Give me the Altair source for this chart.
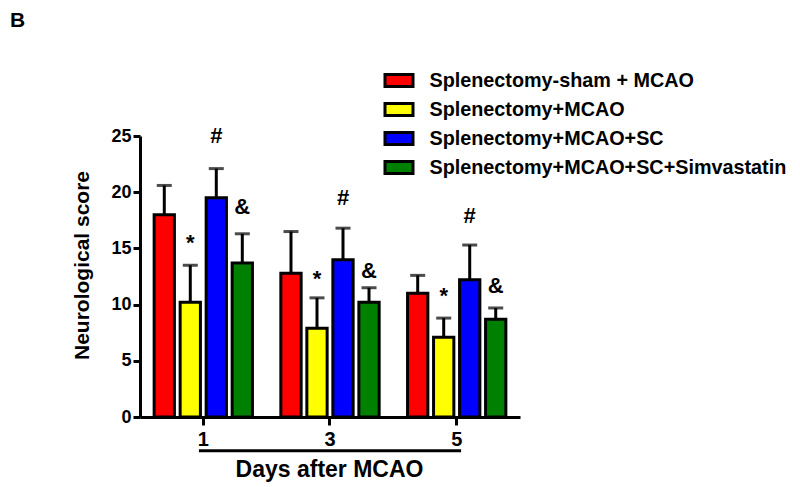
import altair as alt
import pandas as pd

# ---- data ----
days = ["1", "3", "5"]
groups = [
    "Splenectomy-sham + MCAO",
    "Splenectomy+MCAO",
    "Splenectomy+MCAO+SC",
    "Splenectomy+MCAO+SC+Simvastatin",
]
colors = ["#FF0000", "#FFFF00", "#0000FF", "#008000"]

mean_sham = [18.0, 12.8, 11.0]
mean_splen = [10.2, 7.9, 7.1]
mean_sc = [19.5, 14.0, 12.2]
mean_simva = [13.7, 10.2, 8.7]

sem_sham = [2.6, 3.7, 1.6]
sem_splen = [3.3, 2.7, 1.7]
sem_sc = [2.6, 2.8, 3.1]
sem_simva = [2.6, 1.3, 1.0]

# significance marks (group index 1,2,3) and their heights per day
sig_symbols = ["*", "#", "&"]
sig_y_splen = [14.9, 11.65, 10.1]
sig_y_sc = [24.4, 18.9, 17.3]
sig_y_simva = [18.1, 12.4, 11.0]

FONT = "Liberation Sans"

means = [mean_sham, mean_splen, mean_sc, mean_simva]
sems = [sem_sham, sem_splen, sem_sc, sem_simva]
rows = []
for g, m, s in zip(groups, means, sems):
    for d, mv, sv in zip(days, m, s):
        rows.append({"day": d, "group": g, "mean": mv, "top": round(mv + sv, 2)})
df = pd.DataFrame(rows)

sig_rows = []
for g, sym, ys in zip(groups[1:], sig_symbols, [sig_y_splen, sig_y_sc, sig_y_simva]):
    for d, yv in zip(days, ys):
        sig_rows.append({"day": d, "group": g, "sym": sym, "y": yv})
sig_df = pd.DataFrame(sig_rows)

x_scale = alt.Scale(domain=days, paddingInner=0.179, paddingOuter=0.089)
xo_scale = alt.Scale(domain=groups, paddingInner=0.22, paddingOuter=0.11)
y_scale = alt.Scale(domain=[0, 25], nice=False)

x_enc = alt.X(
    "day:N",
    scale=x_scale,
    axis=alt.Axis(
        labelAngle=0,
        labelFont=FONT,
        labelFontSize=20,
        labelFontWeight="bold",
        labelColor="black",
        labelPadding=4,
        tickSize=8,
        tickWidth=3,
        tickColor="black",
        domainWidth=3,
        domainColor="black",
        title="Days after MCAO",
        titleFont=FONT,
        titleFontSize=23,
        titleFontWeight="bold",
        titleColor="black",
        titleX=189,
        titleY=59.5,
        titleBaseline="alphabetic",
        titleAlign="center",
    ),
)
xo_enc = alt.XOffset("group:N", scale=xo_scale)
y_enc = alt.Y(
    "mean:Q",
    scale=y_scale,
    axis=alt.Axis(
        values=[0, 5, 10, 15, 20, 25],
        grid=False,
        labelFont=FONT,
        labelFontSize=18,
        labelFontWeight="bold",
        labelColor="black",
        labelPadding=2,
        tickSize=7,
        tickWidth=3,
        tickColor="black",
        domainWidth=3,
        domainColor="black",
        title="Neurological score",
        titleFont=FONT,
        titleFontSize=21,
        titleFontWeight="bold",
        titleColor="black",
        titleX=-52,
        titleY=129,
        titleAngle=270,
        titleBaseline="alphabetic",
        titleAlign="center",
    ),
)

bars = alt.Chart(df).mark_bar(stroke="black", strokeWidth=3).encode(
    x=x_enc,
    xOffset=xo_enc,
    y=y_enc,
    color=alt.Color(
        "group:N",
        scale=alt.Scale(domain=groups, range=colors),
        legend=alt.Legend(
            title=None,
            orient="none",
            legendX=243.5,
            legendY=-71,
            direction="vertical",
            symbolType="M-1,-0.43H1V0.43H-1Z",
            symbolSize=784,
            symbolStrokeColor="black",
            symbolStrokeWidth=3,
            symbolOpacity=1,
            labelFont=FONT,
            labelFontSize=19.8,
            labelFontWeight="bold",
            labelColor="black",
            labelOffset=15,
            labelLimit=600,
            rowPadding=1,
            padding=0,
        ),
    ),
)

err = alt.Chart(df).mark_rule(color="black", strokeWidth=3).encode(
    x=alt.X("day:N", scale=x_scale),
    xOffset=xo_enc,
    y=alt.Y("mean:Q", scale=y_scale),
    y2="top:Q",
)

caps = alt.Chart(df).mark_tick(color="black", size=15, thickness=3, orient="horizontal").encode(
    x=alt.X("day:N", scale=x_scale),
    xOffset=xo_enc,
    y=alt.Y("top:Q", scale=y_scale),
)

sig = alt.Chart(sig_df).mark_text(
    font=FONT, fontSize=22, fontWeight="bold", color="black", baseline="alphabetic"
).encode(
    x=alt.X("day:N", scale=x_scale),
    xOffset=alt.XOffset("group:N", scale=xo_scale),
    y=alt.Y("y:Q", scale=y_scale),
    text="sym:N",
)

bracket = alt.Chart(pd.DataFrame({"start": ["1"], "end": ["5"]})).mark_rule(
    color="black", strokeWidth=3
).encode(
    x=alt.X("start:N", scale=x_scale, bandPosition=0.458),
    x2=alt.X2("end", bandPosition=0.542),
    y=alt.value(314.7),
)

panel = alt.Chart(pd.DataFrame({"t": ["B"]})).mark_text(
    font=FONT, fontSize=21, fontWeight="bold", color="black", align="left", baseline="alphabetic"
).encode(text="t:N", x=alt.value(-130), y=alt.value(-109))

chart = (
    alt.layer(bars, err, caps, sig, bracket, panel)
    .properties(
        width=380,
        height=281,
        autosize="none",
        padding={"left": 132, "top": 128, "right": 272, "bottom": 66},
    )
    .configure_view(strokeWidth=0)
)

chart.save("out.html", embed_options={"renderer": "svg", "actions": False})
